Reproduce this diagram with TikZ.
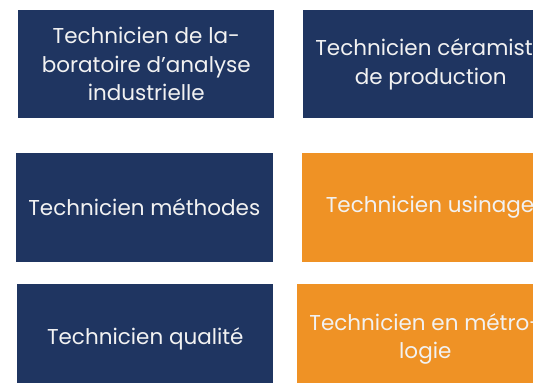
\documentclass[tikz,border=0pt]{standalone}
\usepackage{fontspec}
\setmainfont{Poppins}
\definecolor{navy}{HTML}{1F3561}
\definecolor{orangebox}{HTML}{EF9225}
\definecolor{boxtext}{HTML}{F2F2F2}
\begin{document}
\begin{tikzpicture}[x=1pt,y=-1pt,
  card/.style={minimum width=256pt,minimum height=108pt,inner sep=0pt,align=center,
    text=boxtext,font=\fontsize{21.5}{28.5}\selectfont},
  navycard/.style={card,fill=navy},
  orangecard/.style={card,fill=orangebox}]
\useasboundingbox (0,0) rectangle (533,383);
\clip (0,0) rectangle (533,383);
\node[navycard] (a) at (146.3,64.2) {Technicien de la-\\boratoire d’analyse\\industrielle};
\node[navycard] (b) at (430.7,64.2) {Technicien céramiste\\de production};
\node[navycard,minimum width=256.7pt,minimum height=109pt] (c) at (144.3,207.3) {Technicien méthodes};
\node[orangecard,minimum height=109pt] (d) at (430,207.7) {Technicien usinage};
\node[navycard,minimum height=110pt] (e) at (145.3,339) {Technicien qualité};
\node[orangecard,minimum height=110pt] (f) at (425.3,339) {Technicien en métro-\\logie};
\end{tikzpicture}
\end{document}
